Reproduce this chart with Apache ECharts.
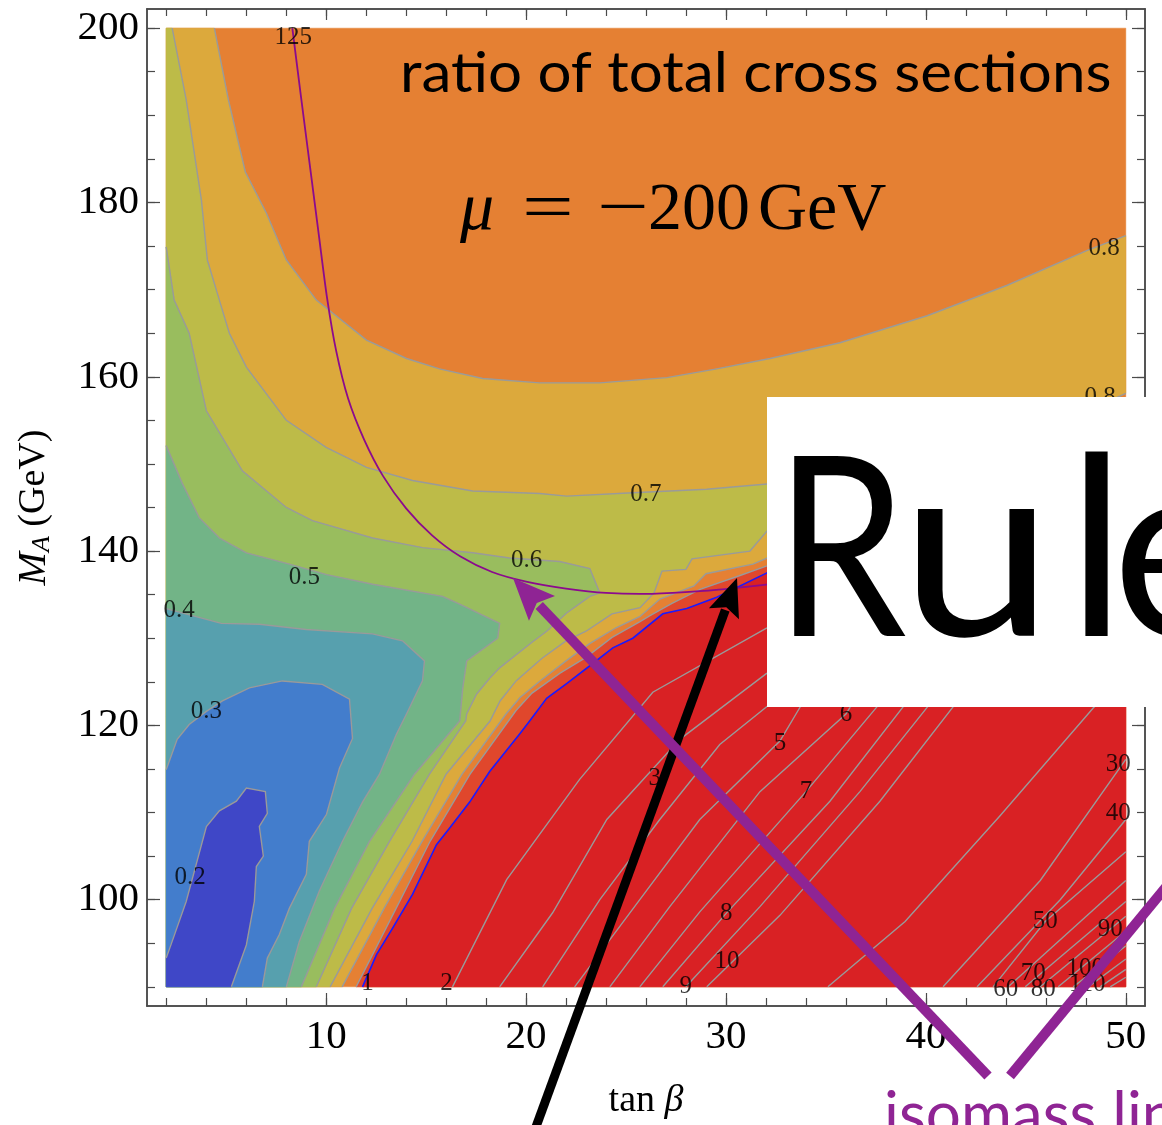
<!DOCTYPE html>
<html>
<head>
<meta charset="utf-8">
<script src="https://cdn.jsdelivr.net/npm/echarts@6/dist/echarts.min.js"></script>
<style>
  html, body { margin: 0; padding: 0; background: #fff; }
  #chart { width: 1162px; height: 1125px; }
</style>
</head>
<body>
<div id="chart"></div>
<script>
// axis ranges and ticks
const xMajor = [10, 20, 30, 40, 50];
const xMinor = [2, 4, 6, 8, 10, 12, 14, 16, 18, 20, 22, 24, 26, 28, 30, 32, 34, 36, 38, 40, 42, 44, 46, 48, 50];
const yMajor = [100, 120, 140, 160, 180, 200];
const yMinor = [90, 95, 100, 105, 110, 115, 120, 125, 130, 135, 140, 145, 150, 155, 160, 165, 170, 175, 180, 185, 190, 195, 200];

// plotted region (tan beta, M_A)
const plotCorners = [[2, 90], [50, 90], [50, 200], [2, 200]];

// contour lines [tanβ, M_A]
const contour08Upper = [[4.41, 200], [5.11, 191.8], [5.96, 183.5], [7.01, 178.8], [8.01, 173.4], [9.51, 168.8], [12.02, 164.2], [14.02, 162.1], [15.67, 160.9], [17.83, 159.8], [20.68, 159.3], [23.69, 159.3], [27.04, 159.9], [29.54, 160.9], [32.2, 162.1], [35.7, 163.9], [40.06, 167.0], [44.07, 170.5], [48.07, 174.5], [50, 176.2]];
const contour08Lower = [[50, 158.1], [32.05, 139.2], [31.35, 138.5], [29.0, 137.4], [28.4, 136.0], [26.7, 134.5], [25.7, 132.5], [24.5, 131.2], [23.2, 129.4], [22.0, 127.4], [20.7, 125.1], [19.7, 123.2], [19.0, 121.3], [16.8, 114.4], [14.8, 106.7], [12.9, 99.0], [10.8, 90]];
const contour07 = [[2.30, 200], [3.0, 191.8], [3.76, 180.3], [4.06, 173.4], [4.66, 168.8], [5.16, 165.0], [6.01, 161.1], [8.01, 155.0], [10.0, 151.9], [12.02, 149.6], [14.32, 148.1], [17.33, 146.9], [20.68, 146.6], [22.03, 146.3], [25.34, 146.7], [29.04, 147.1], [32.05, 147.7], [35.2, 144.9], [32.05, 142.3], [31.2, 140.0], [28.3, 139.1], [28.0, 137.9], [26.8, 137.7], [26.4, 135.2], [25.7, 133.5], [24.3, 132.8], [23.0, 130.8], [22.0, 129.7], [20.8, 127.7], [19.5, 125.1], [18.7, 122.8], [18.2, 120.5], [16.0, 114.4], [14.3, 106.7], [12.3, 99.0], [10.2, 90]];
const contour06 = [[2, 174.9], [2.40, 168.8], [3.15, 165.0], [4.01, 156.1], [5.81, 149.2], [8.01, 145.0], [9.31, 143.5], [12.32, 141.5], [14.82, 140.4], [17.33, 139.8], [19.18, 139.2], [21.68, 138.8], [23.19, 138.0], [23.69, 135.2], [23.19, 134.8], [22.03, 132.9], [21.03, 130.8], [20.33, 129.6], [18.68, 126.6], [18.18, 125.4], [17.53, 123.6], [17.03, 121.3], [16.98, 120.5], [15.17, 114.4], [13.17, 106.7], [11.27, 99.0], [9.51, 90]];
const contour05 = [[2, 152.1], [2.80, 147.8], [3.66, 143.8], [4.66, 141.5], [6.01, 139.8], [8.16, 138.5], [10.02, 137.3], [12.32, 136.2], [15.82, 134.8], [16.68, 133.9], [18.68, 131.7], [18.58, 130.0], [17.03, 127.4], [16.83, 124.2], [16.68, 120.5], [14.42, 114.4], [12.17, 106.7], [10.42, 99.0], [8.76, 90]];
const contour04 = [[2, 133.4], [4.76, 131.7], [6.66, 131.6], [9.01, 131.0], [12.32, 130.5], [13.82, 129.7], [14.92, 127.4], [14.82, 125.1], [14.02, 121.3], [13.52, 119.0], [12.67, 114.4], [11.82, 111.2], [10.82, 106.7], [9.66, 101.0], [8.66, 95.2], [8.01, 90]];
const contour03 = [[2, 114.9], [2.55, 118.4], [3.15, 120.1], [4.01, 121.6], [4.81, 122.8], [6.16, 124.3], [7.81, 125.1], [9.81, 124.7], [11.17, 123.0], [11.32, 118.5], [10.67, 115.1], [10.02, 109.8], [9.16, 106.7], [9.01, 102.9], [8.16, 99.0], [7.66, 96.0], [7.06, 93.3], [6.81, 90]];
const contour02 = [[2, 93.3], [2.25, 94.9], [3.0, 99.8], [4.01, 108.4], [4.66, 110.2], [5.51, 111.3], [6.01, 112.8], [6.96, 112.4], [7.06, 109.9], [6.66, 108.4], [6.86, 105.0], [6.51, 103.8], [6.41, 99.8], [6.01, 94.8], [5.26, 90]];
const contour09 = [[50, 157.5], [32.05, 138.3], [30.7, 137.2], [28.7, 135.6], [27.3, 134.0], [26.2, 132.6], [25.7, 131.9], [24.3, 130.1], [23.0, 127.8], [21.7, 126.0], [20.3, 123.7], [19.5, 121.7], [17.2, 114.4], [15.2, 106.7], [13.5, 99.0], [11.5, 90]];
const contour1 = [[50, 157.1], [32.05, 137.5], [29.54, 134.7], [28.04, 133.4], [26.84, 132.8], [25.34, 130.0], [24.34, 128.9], [23.34, 127.1], [22.03, 124.8], [21.03, 123.1], [20.18, 120.5], [19.68, 119.0], [18.18, 114.7], [17.18, 111.2], [16.17, 108.2], [15.52, 106.3], [14.32, 100.6], [13.32, 96.7], [12.52, 93.7], [11.82, 90]];

// contours inside the ratio > 1 region
const redContours = [
  [[16.32, 90], [19.03, 102.3], [22.68, 113.8], [26.34, 123.8], [32.05, 131.2]],
  [[18.68, 90], [21.33, 98.5], [24.04, 109.2], [27.69, 118.4], [32.05, 126.0]],
  [[20.83, 90], [23.69, 100.0], [26.69, 109.2], [29.69, 117.8], [33.7, 125.2]],
  [[22.43, 90], [25.69, 100.0], [28.69, 109.2], [32.7, 118.2], [34.2, 124.0]],
  [[24.19, 90], [27.19, 99.2], [31.7, 112.4], [36.0, 121.3], [36.7, 123.9]],
  [[25.69, 90], [28.69, 98.6], [34.0, 112.4], [38.2, 123.9]],
  [[26.84, 90], [30.0, 98.4], [35.2, 111.3], [39.46, 123.9]],
  [[27.99, 90], [31.7, 99.2], [36.7, 112.4], [40.7, 123.9]],
  [[29.04, 90], [32.7, 98.2], [37.7, 111.3], [41.96, 123.9]],
  [[35.1, 90], [38.96, 97.5], [43.7, 109.6], [48.37, 122.0], [49.2, 123.9]],
  [[40.86, 90], [45.72, 102.2], [50, 116.1]],
  [[42.56, 90], [46.72, 100.0], [50, 109.2]],
  [[43.36, 90], [45.97, 97.5], [50, 105.5]],
  [[44.12, 90], [50, 102.2]],
  [[44.97, 90], [50, 99.8]],
  [[45.72, 90], [50, 98.1]],
  [[46.62, 90], [50, 96.4]],
  [[47.37, 90], [50, 94.7]],
  [[48.12, 90], [50, 93.2]],
  [[48.72, 90], [50, 92.0]],
  [[49.22, 90], [50, 91.1]]
];

// isomass line M_h = 125 GeV
const isomass125 = [[8.31, 200], [8.75, 192.0], [9.2, 184.0], [9.65, 176.0], [10.05, 169.0], [10.5, 163.0], [11.1, 157.5], [11.9, 152.8], [12.85, 148.6], [14.0, 144.9], [15.3, 141.8], [16.7, 139.4], [18.3, 137.6], [20.0, 136.5], [22.0, 135.7], [24.0, 135.2], [26.3, 135.1], [28.7, 135.4], [31.0, 135.9], [33.7, 136.6]];

// contour labels [tanβ, M_A, text]
const contourLabels = [
  [3.20, 102.6, '0.2'], [4.01, 121.6, '0.3'], [2.65, 133.2, '0.4'], [8.91, 137.0, '0.5'],
  [20.03, 138.9, '0.6'], [25.99, 146.5, '0.7'], [48.92, 174.7, '0.8'], [48.72, 157.6, '0.8'],
  [8.36, 198.9, '125'],
  [12.07, 90.4, '1'], [16.02, 90.4, '2'], [26.44, 113.9, '3'], [32.70, 117.9, '5'],
  [36.0, 121.3, '6'], [34.0, 112.4, '7'], [30.01, 98.4, '8'], [27.99, 90.0, '9'],
  [30.05, 92.9, '10'], [49.62, 115.5, '30'], [49.62, 109.9, '40'], [45.97, 97.5, '50'],
  [44.0, 89.7, '60'], [45.37, 91.5, '70'], [45.87, 89.7, '80'], [49.22, 96.6, '90'],
  [47.97, 92.1, '100'], [48.07, 90.3, '110']
];

const bandColors = {
  lt02: '#3f47c7', lt03: '#437dcc', lt04: '#57a0ae', lt05: '#72b487',
  lt06: '#99bd5e', lt07: '#bdbb48', lt08: '#dca93c', lt09: '#e58033',
  lt10: '#e0472c', gt10: '#d92124'
};

// filled bands, painted in order
const fills = [
  { pts: plotCorners, color: bandColors.lt09 },
  { pts: contour08Upper.concat(contour08Lower, [[2, 90], [2, 200]]), color: bandColors.lt08 },
  { pts: contour07.concat([[2, 90], [2, 200]]), color: bandColors.lt07 },
  { pts: contour06.concat([[2, 90]]), color: bandColors.lt06 },
  { pts: contour05.concat([[2, 90]]), color: bandColors.lt05 },
  { pts: contour04.concat([[2, 90]]), color: bandColors.lt04 },
  { pts: contour03.concat([[2, 90]]), color: bandColors.lt03 },
  { pts: contour02.concat([[2, 90]]), color: bandColors.lt02 },
  { pts: contour09.concat([[50, 90]]), color: bandColors.lt10 },
  { pts: contour1.concat([[50, 90]]), color: bandColors.gt10 }
];

const gray = '#9a9a9a';
const strokes = [contour08Upper, contour08Lower, contour07, contour06, contour05, contour04, contour03, contour02, contour09]
  .concat(redContours)
  .map(p => ({ pts: p, color: gray, width: 1.4, smooth: 0 }))
  .concat([
    { pts: contour1, color: '#1a1aff', width: 1.6, smooth: 0 },
    { pts: isomass125, color: '#8b0a8e', width: 1.8, smooth: 0.25 }
  ]);

const serif = '"Liberation Serif", "Times New Roman", serif';
const frameColor = '#4a4a4a';

function axisX(pos, ticks, len, withLabel) {
  return {
    type: 'value', position: pos, min: 1.04, max: 50.96,
    axisLine: { show: true, onZero: false, lineStyle: { color: frameColor, width: 1.5 } },
    axisTick: { show: true, inside: true, length: len, customValues: ticks, lineStyle: { color: frameColor, width: 1.2 } },
    axisLabel: withLabel ? { show: true, customValues: xMajor, margin: 11, color: '#000', fontFamily: serif, fontSize: 41 } : { show: false },
    splitLine: { show: false }
  };
}
function axisY(pos, ticks, len, withLabel) {
  return {
    type: 'value', position: pos, min: 87.8, max: 202.2,
    axisLine: { show: true, onZero: false, lineStyle: { color: frameColor, width: 1.5 } },
    axisTick: { show: true, inside: true, length: len, customValues: ticks, lineStyle: { color: frameColor, width: 1.2 } },
    axisLabel: withLabel ? { show: true, customValues: yMajor, margin: 8, color: '#000', fontFamily: serif, fontSize: 41 } : { show: false },
    splitLine: { show: false }
  };
}

const xAxes = [axisX('bottom', xMajor, 13, true), axisX('bottom', xMinor, 8, false), axisX('top', xMajor, 11, false), axisX('top', xMinor, 7, false)];
xAxes[0].name = '{n|tan }{b|β}';
xAxes[0].nameLocation = 'middle';
xAxes[0].nameGap = 76;
xAxes[0].nameTextStyle = { fontFamily: serif, fontSize: 38, color: '#000', rich: { n: { fontFamily: serif, fontSize: 38 }, b: { fontFamily: serif, fontSize: 38, fontStyle: 'italic' } } };

const yAxes = [axisY('left', yMajor, 13, true), axisY('left', yMinor, 8, false), axisY('right', yMajor, 13, false), axisY('right', yMinor, 8, false)];
yAxes[0].name = '{m|M}{a|A}{g| (GeV)}';
yAxes[0].nameLocation = 'middle';
yAxes[0].nameGap = 92;
yAxes[0].nameTextStyle = { color: '#000', rich: {
  m: { fontFamily: serif, fontSize: 40, fontStyle: 'italic' },
  a: { fontFamily: serif, fontSize: 26, fontStyle: 'italic', padding: [16, 0, 0, 0] },
  g: { fontFamily: serif, fontSize: 38 }
} };

const chart = echarts.init(document.getElementById('chart'), null, { renderer: 'canvas' });

// arrow helper for slide annotations
function arrow(from, to, color, width, headLen, headHalf) {
  const dx = to[0] - from[0], dy = to[1] - from[1];
  const L = Math.sqrt(dx * dx + dy * dy);
  const ux = dx / L, uy = dy / L, nx = -uy, ny = ux;
  const bx = to[0] - headLen * ux, by = to[1] - headLen * uy;
  return [
    { type: 'polyline', z: 120, shape: { points: [from, [bx + ux * 4, by + uy * 4]] }, style: { stroke: color, lineWidth: width, fill: null } },
    { type: 'polygon', z: 121, shape: { points: [to, [bx + headHalf * nx, by + headHalf * ny], [bx + headLen * 0.18 * ux, by + headLen * 0.18 * uy], [bx - headHalf * nx, by - headHalf * ny]] }, style: { fill: color } }
  ];
}

const purple = '#8f2494';
const gillLike = 'Lato, "Open Sans", sans-serif';

function slideText(x, y, text, size, scaleX, fill) {
  return { type: 'text', z: 111, x: x, y: y, scaleX: scaleX, style: { x: 0, y: 0, text: text, font: size + 'px ' + gillLike, fill: fill, verticalAlign: 'middle' } };
}
function mathText(x, y, text, italic, scaleX) {
  return { type: 'text', z: 110, x: x, y: y, scaleX: scaleX || 1, style: { x: 0, y: 0, text: text, font: (italic ? 'italic ' : '') + '68px ' + serif, fill: '#000', verticalAlign: 'middle' } };
}

chart.setOption({
  animation: false,
  backgroundColor: '#fff',
  grid: { left: 147, right: 17, top: 9, bottom: 119, containLabel: false },
  xAxis: xAxes,
  yAxis: yAxes,
  series: [
    {
      type: 'custom', name: 'bands', clip: false, silent: true,
      data: fills.map((f, i) => [25, 145, i]),
      renderItem: function (params, api) {
        const f = fills[params.dataIndex];
        return { type: 'polygon', shape: { points: f.pts.map(p => api.coord(p)) }, style: { fill: f.color, stroke: f.color, lineWidth: 0.5 } };
      }
    },
    {
      type: 'custom', name: 'contours', clip: false, silent: true,
      data: strokes.map((s, i) => [25, 145, i]),
      renderItem: function (params, api) {
        const s = strokes[params.dataIndex];
        return { type: 'polyline', shape: { points: s.pts.map(p => api.coord(p)), smooth: s.smooth }, style: { stroke: s.color, lineWidth: s.width, fill: null } };
      }
    },
    {
      type: 'scatter', name: 'labels', symbolSize: 0, silent: true,
      data: contourLabels,
      label: { show: true, position: 'inside', formatter: p => p.data[2], fontFamily: serif, fontSize: 25, color: '#000' }
    }
  ],
  graphic: [
    slideText(400, 74, 'ratio of total cross sections', 57, 1.055, '#000'),
    mathText(460, 211, 'μ', true),
    mathText(522, 211, '=', false, 1.35),
    mathText(597, 211, '−', false, 1.35),
    mathText(648, 211, '200', false),
    mathText(758, 211, 'GeV', false),
    { type: 'rect', z: 110, shape: { x: 767, y: 397, width: 400, height: 310 }, style: { fill: '#fff' } },
    slideText(775, 555, 'R', 250, 0.84, '#000'),
    slideText(900, 555, 'u', 250, 1.1, '#000'),
    slideText(1067, 555, 'l', 250, 1, '#000'),
    slideText(1112, 555, 'e', 250, 1, '#000'),
    ...arrow([533, 1135], [737, 578], '#000', 9, 38, 16),
    ...arrow([988, 1076], [513, 578], purple, 10, 42, 18),
    { type: 'polyline', z: 120, shape: { points: [[1010, 1076], [1180, 870]] }, style: { stroke: purple, lineWidth: 10, fill: null } },
    slideText(884, 1116, 'isomass lines', 62, 1, purple)
  ]
});
</script>
</body>
</html>
